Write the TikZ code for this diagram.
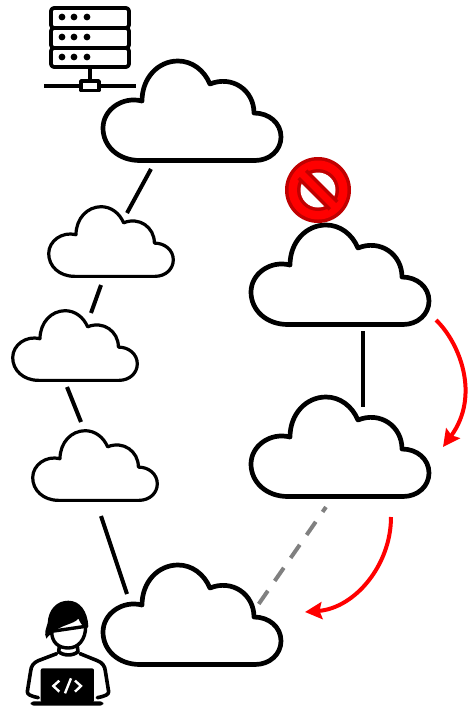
\documentclass[tikz,border=0pt]{standalone}
\usetikzlibrary{arrows.meta}
\definecolor{stopdark}{HTML}{C00000}
\tikzset{
  x=1pt,y=-1pt,
  cloudline/.style={draw=black,fill=white,line join=round},
  link/.style={draw=black,line width=4pt},
  move/.style={draw=red,line width=4pt,-{Stealth[length=17pt,width=17pt,inset=2.5pt]}},
  pics/cloud/.style={code={
    \path[cloudline]
      (38,100.5) .. controls (16,100.5) and (1,86) .. (1,68)
      .. controls (1,50) and (20,36) .. (40,41)
      .. controls (40,18) and (56,1) .. (76,1)
      .. controls (90,1) and (102,10) .. (108,24)
      .. controls (130,15) and (152,30) .. (152,53)
      .. controls (167,53) and (179,63) .. (179,77)
      .. controls (179,90) and (168,100.5) .. (153,100.5)
      -- cycle;
  }}
}
\begin{document}
\begin{tikzpicture}
\useasboundingbox (0,0) rectangle (467,707);
% clouds
\pic[line width=4.7pt] at (102,60) {cloud};
\pic[line width=4.7pt] at (250,224) {cloud};
\pic[line width=4.7pt] at (250,396) {cloud};
\pic[line width=4.7pt] at (102,564) {cloud};
\pic[line width=3.2pt,scale=0.7] at (48,206) {cloud};
\pic[line width=3.2pt,scale=0.7] at (12,310) {cloud};
\pic[line width=3.2pt,scale=0.7] at (32,430) {cloud};
% connector ends
\coordinate (a1) at (151,169); \coordinate (a2) at (127,213);
\coordinate (b1) at (101,285); \coordinate (b2) at (91,313);
\coordinate (c1) at (67,387);  \coordinate (c2) at (81,422);
\coordinate (d1) at (101,516); \coordinate (d2) at (127,594);
\coordinate (e1) at (363,331); \coordinate (e2) at (363,407);
\coordinate (f1) at (326,507); \coordinate (f2) at (258,605);
\coordinate (g1) at (436,320); \coordinate (g2) at (443,447);
\coordinate (h1) at (391,517); \coordinate (h2) at (305,612);
\path[link] (a1) -- (a2);
\path[link] (b1) -- (b2);
\path[link] (c1) -- (c2);
\path[link] (d1) -- (d2);
\path[link] (e1) -- (e2);
\path[link,draw=gray,dash pattern=on 16pt off 12pt,dash phase=10pt] (f1) -- (f2);
\path[move] (g1) .. controls (459,342) and (481,395) .. (g2);
\path[move] (h1) .. controls (391,565) and (355,608) .. (h2);
% stop sign
\begin{scope}[shift={(318,190)}]
  \fill[stopdark] (0,0) circle[radius=33];
  \fill[red] (0,0) circle[radius=29.5];
  \fill[stopdark] (0,0) circle[radius=21];
  \fill[white] (0,0) circle[radius=17.5];
  \fill[stopdark,rotate=-45] (-22,-7) rectangle (22,7);
  \fill[red,rotate=-45] (-25,-3.5) rectangle (25,3.5);
\end{scope}
% server
\begin{scope}[line width=3.8pt,line join=round]
  \draw[rounded corners=3pt] (51,8) rectangle (129,28);
  \draw[rounded corners=3pt] (51,28) rectangle (129,48);
  \draw[rounded corners=3pt] (51,48) rectangle (129,67);
  \foreach \yy in {17,37,57}
    \foreach \xx in {62,74,87}
      \fill (\xx,\yy) circle[radius=3.4];
  \draw (90,67) -- (90,81);
  \draw (44,86) -- (136,86);
  \draw[fill=white] (81,81) rectangle (99,90.5);
\end{scope}
% developer: head
\begin{scope}[shift={(35,598)},x=0.3333pt,y=-0.3333pt,line width=3.4pt,line join=round]
  \draw[fill=white] (50,100) .. controls (50,135) and (72,150) .. (100,150)
     .. controls (130,150) and (152,125) .. (152,85) -- cycle;
  \fill (34,122) .. controls (26,105) and (34,90) .. (38,75)
     .. controls (40,35) and (65,8) .. (100,8)
     .. controls (135,8) and (158,40) .. (160,85)
     .. controls (155,95) and (150,95) .. (145,85)
     .. controls (140,80) and (133,70) .. (130,62)
     .. controls (115,80) and (80,78) .. (48,108)
     .. controls (42,112) and (38,116) .. (34,122) -- cycle;
\end{scope}
% developer: body
\begin{scope}[shift={(10,595)},x=0.3333pt,y=-0.3333pt,line width=3.6pt,line join=round,line cap=round]
  \draw (148,155) -- (146,170) .. controls (160,183) and (190,183) .. (204,170) -- (202,155);
  \draw (140,176) -- (85,197) .. controls (70,203) and (63,215) .. (62,228)
     -- (52,290) .. controls (52,298) and (60,303) .. (85,308);
  \draw (210,176) -- (262,197) .. controls (278,203) and (285,215) .. (286,228)
     -- (296,290) .. controls (296,298) and (288,303) .. (262,308);
  \fill[rounded corners=2pt] (92,220) rectangle (252,322);
  \fill[rounded corners=3pt] (62,319) rectangle (280,332);
  \draw[white,line width=2.4pt,line cap=butt,line join=miter] (148,257) -- (130,273) -- (148,290);
  \draw[white,line width=2.4pt,line cap=butt,line join=miter] (195,257) -- (213,273) -- (195,290);
  \draw[white,line width=2.4pt,line cap=butt] (183,250) -- (165,295);
\end{scope}
\end{tikzpicture}
\end{document}
